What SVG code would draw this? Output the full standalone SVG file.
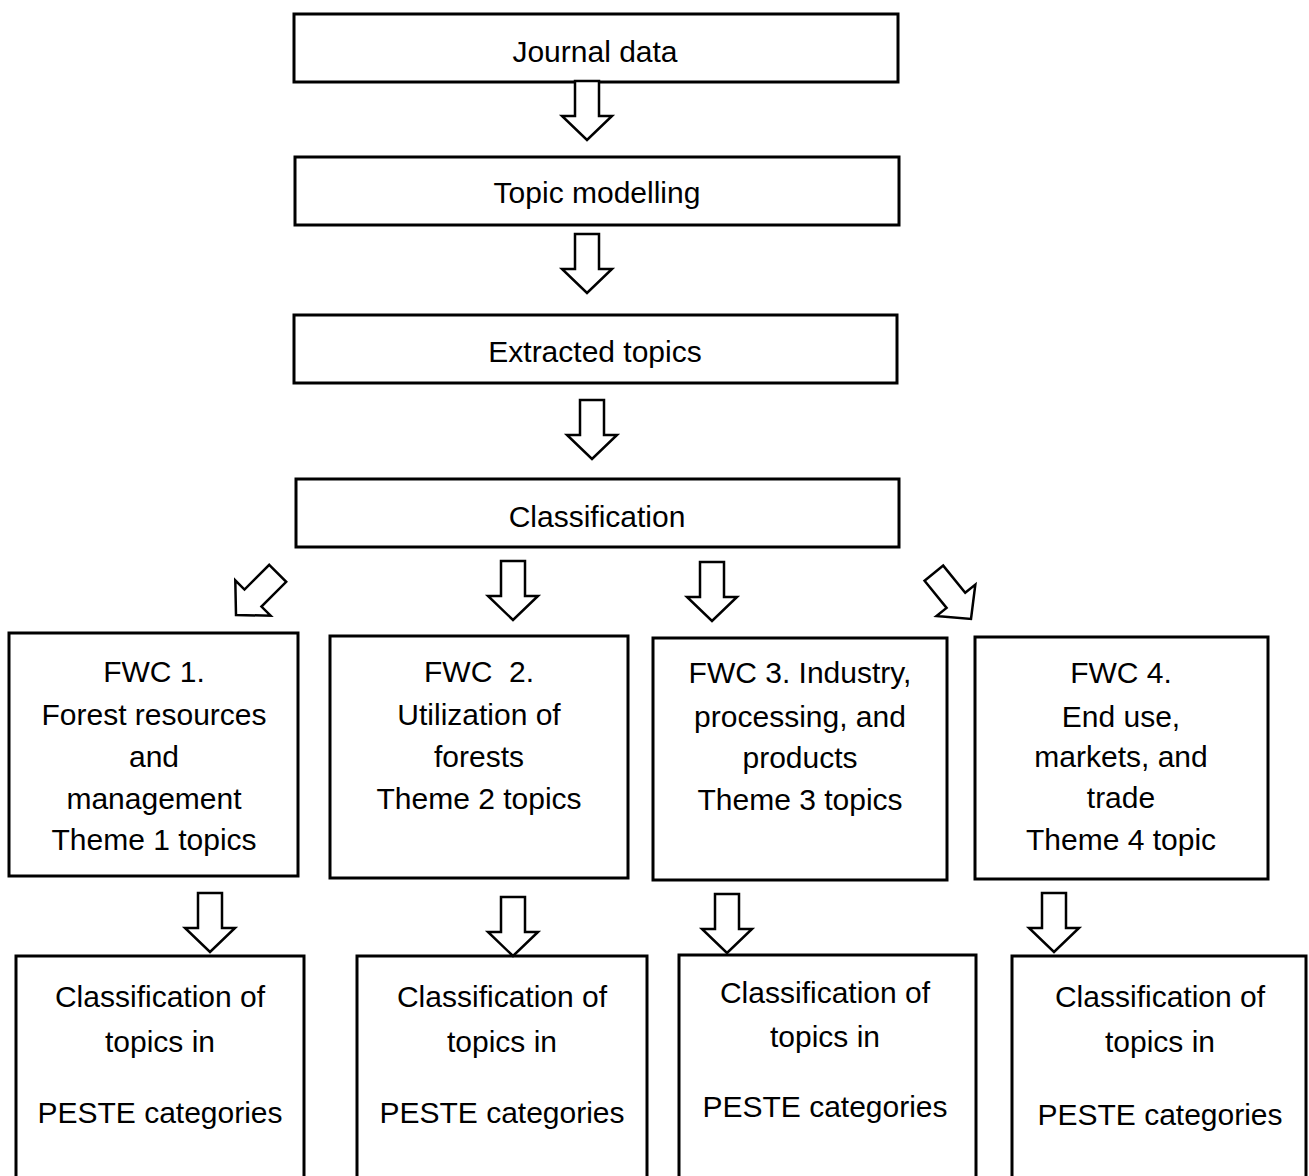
<svg xmlns="http://www.w3.org/2000/svg" width="1309" height="1176" viewBox="0 0 1309 1176">
<defs>
<style>
.box{fill:#fff;stroke:#000;stroke-width:3}
.arr{fill:#fff;stroke:#000;stroke-width:2.5;stroke-linejoin:miter}
text{font-family:"Liberation Sans",Arial,sans-serif;font-size:30px;fill:#000;text-anchor:middle}
</style>
<path id="ar" d="M-12,-59 H12 V-24 H25 L0,0 L-25,-24 H-12 Z"/>
</defs>
<rect width="1309" height="1176" fill="#fff"/>
<g id="journal"><rect class="box" x="294" y="14" width="604" height="68"/><text x="595" y="62">Journal data</text></g>
<g id="topic-modelling"><rect class="box" x="295" y="157" width="604" height="68"/><text x="597" y="203">Topic modelling</text></g>
<g id="extracted-topics"><rect class="box" x="294" y="315" width="603" height="68"/><text x="595" y="362">Extracted topics</text></g>
<g id="classification"><rect class="box" x="296" y="479" width="603" height="68"/><text x="597" y="527">Classification</text></g>
<g id="fwc1"><rect class="box" x="9" y="633" width="289" height="243"/>
<text x="154" y="682">FWC 1.</text><text x="154" y="725">Forest resources</text><text x="154" y="767">and</text><text x="154" y="809">management</text><text x="154" y="850">Theme 1 topics</text></g>
<g id="fwc2"><rect class="box" x="330" y="636" width="298" height="242"/>
<text x="479" y="682" xml:space="preserve">FWC  2.</text><text x="479" y="725">Utilization of</text><text x="479" y="767">forests</text><text x="479" y="809">Theme 2 topics</text></g>
<g id="fwc3"><rect class="box" x="653" y="638" width="294" height="242"/>
<text x="800" y="683">FWC 3. Industry,</text><text x="800" y="727">processing, and</text><text x="800" y="768">products</text><text x="800" y="810">Theme 3 topics</text></g>
<g id="fwc4"><rect class="box" x="975" y="637" width="293" height="242"/>
<text x="1121" y="683">FWC 4.</text><text x="1121" y="727">End use,</text><text x="1121" y="767">markets, and</text><text x="1121" y="808">trade</text><text x="1121" y="850">Theme 4 topic</text></g>
<g id="peste1"><rect class="box" x="16" y="956" width="288" height="240"/>
<text x="160" y="1007">Classification of</text><text x="160" y="1052">topics in</text><text x="160" y="1123">PESTE categories</text></g>
<g id="peste2"><rect class="box" x="357" y="956" width="290" height="240"/>
<text x="502" y="1007">Classification of</text><text x="502" y="1052">topics in</text><text x="502" y="1123">PESTE categories</text></g>
<g id="peste3"><rect class="box" x="679" y="955" width="297" height="240"/>
<text x="825" y="1003">Classification of</text><text x="825" y="1047">topics in</text><text x="825" y="1117">PESTE categories</text></g>
<g id="peste4"><rect class="box" x="1012" y="956" width="294" height="240"/>
<text x="1160" y="1007">Classification of</text><text x="1160" y="1052">topics in</text><text x="1160" y="1125">PESTE categories</text></g>
<g id="connectors">
<use href="#ar" class="arr" transform="translate(587,140)"/>
<use href="#ar" class="arr" transform="translate(587,293)"/>
<use href="#ar" class="arr" transform="translate(592,459)"/>
<use href="#ar" class="arr" transform="translate(236,615) rotate(45)"/>
<use href="#ar" class="arr" transform="translate(513,620)"/>
<use href="#ar" class="arr" transform="translate(712,621)"/>
<use href="#ar" class="arr" transform="translate(971,619) rotate(-39)"/>
<use href="#ar" class="arr" transform="translate(210,952)"/>
<use href="#ar" class="arr" transform="translate(513,956)"/>
<use href="#ar" class="arr" transform="translate(727,953)"/>
<use href="#ar" class="arr" transform="translate(1054,952)"/>
</g>
</svg>
